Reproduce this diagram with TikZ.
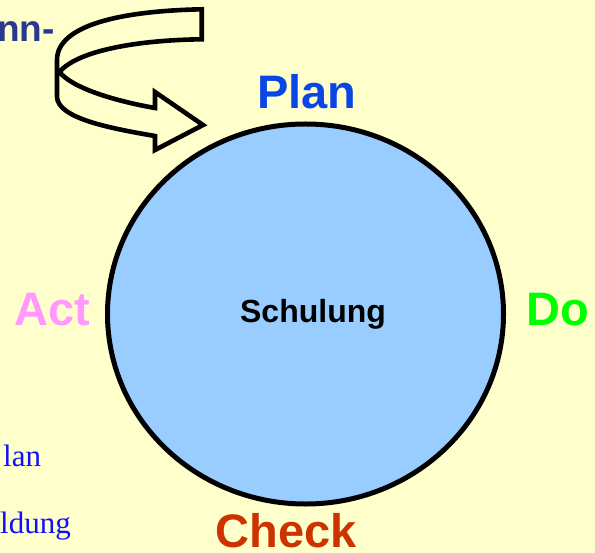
\documentclass[tikz,border=0pt]{standalone}
\usepackage{fontspec}
\usetikzlibrary{shapes.geometric}
\setmainfont{Liberation Serif}
\setsansfont{Liberation Sans}
\definecolor{paper}{HTML}{FFFFCC}
\definecolor{disc}{HTML}{99CCFF}
\definecolor{planblue}{HTML}{0A46E6}
\definecolor{actpink}{HTML}{FF99FF}
\definecolor{dogreen}{HTML}{00FF00}
\definecolor{checkred}{HTML}{CC3300}
\definecolor{navy}{HTML}{2A3890}
\definecolor{noteblue}{HTML}{1010FF}
\tikzset{
  phase/.style={inner sep=0pt, anchor=base, font=\sffamily\bfseries\fontsize{47bp}{52bp}\selectfont},
  note/.style={inner sep=0pt, anchor=base west, text=noteblue, font=\rmfamily\fontsize{31bp}{34bp}\selectfont},
}
\begin{document}
\begin{tikzpicture}[x=1bp, y=-1bp]
  \fill[paper] (0,0) rectangle (595,553);
  \useasboundingbox (0,0) rectangle (595,553);

  % the PDCA disc
  \node[draw=black, line width=5bp, fill=disc, ellipse, minimum width=396bp, minimum height=380bp, inner sep=0pt] (disc) at (305.5,314) {};
  \node[inner sep=0pt, anchor=base, font=\sffamily\bfseries\fontsize{32bp}{36bp}\selectfont] (topic) at (313,322) {Schulung};

  % phase labels around the disc
  \node[phase, text=planblue] (plan) at (307,109) {Plan};
  \node[phase, text=actpink] (act) at (52.5,325) {Act};
  \node[phase, text=dogreen] (do) at (558,325) {Do};
  \node[phase, text=checkred] (check) at (286,547) {Check};

  % side texts
  \node[inner sep=0pt, anchor=base east, text=navy, font=\sffamily\bfseries\fontsize{37bp}{40bp}\selectfont] (head) at (55,42) {nn-};
  \node[note] (n1) at (3,466) {lan};
  \node[note] (n2) at (0,533) {ldung};

  % curled entry arrow
  \draw[line width=4.6bp, fill=paper, line join=miter]
    (201.7,9.3) .. controls (118,11) and (57,26) .. (57,60)
    -- (57,97)
    .. controls (58,118) and (108,128) .. (155,136)
    -- (155,150) -- (203,125) -- (155,92) -- (155,108)
    .. controls (115,101) and (72,88) .. (59.5,72)
    .. controls (78,50) and (140,40) .. (201.7,39.3)
    -- cycle;
\end{tikzpicture}
\end{document}
